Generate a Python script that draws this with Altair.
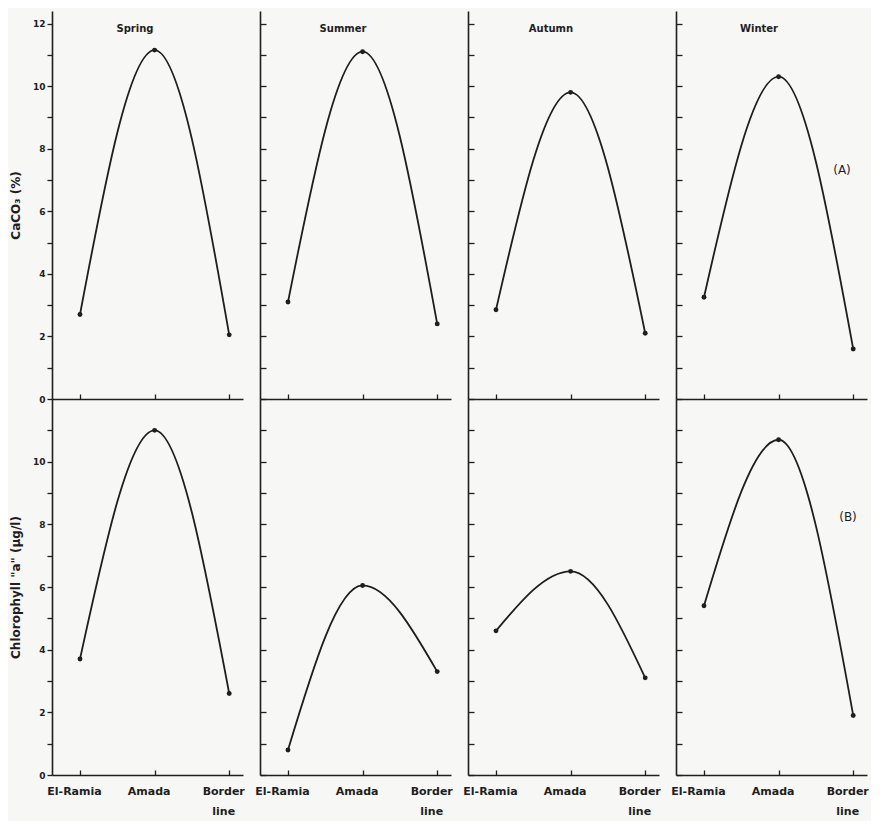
import altair as alt
import pandas as pd

stations = ["El-Ramia", "Amada", "Border line"]
seasons = ["Spring", "Summer", "Autumn", "Winter"]

caco3_spring = [2.7, 11.15, 2.05]
caco3_summer = [3.1, 11.1, 2.4]
caco3_autumn = [2.85, 9.8, 2.1]
caco3_winter = [3.25, 10.3, 1.6]

chl_spring = [3.7, 11.0, 2.6]
chl_summer = [0.8, 6.05, 3.3]
chl_autumn = [4.6, 6.5, 3.1]
chl_winter = [5.4, 10.7, 1.9]

caco3_ticks = list(range(0, 13))
chl_ticks = list(range(0, 12))

panel_tags = ["(A)", "(B)"]

W = 191
H_TOP = 388
H_BOT = 376
FONT = "DejaVu Sans"
INK = "#1e1e1e"


def frame(values):
    return pd.DataFrame({"station": stations,
                         "idx": list(range(len(stations))),
                         "value": values})


def panel(values, season, row, first, last):
    df = frame(values)
    if row == 0:
        ydomain, ticks, H = [0, 12.4], caco3_ticks, H_TOP
        ytitle = "CaCO₃ (%)"
    else:
        ydomain, ticks, H = [0, 12], chl_ticks, H_BOT
        ytitle = 'Chlorophyll "a" (μg/l)'
    if first:
        yaxis = alt.Axis(orient="left", values=ticks,
                         labelExpr="datum.value % 2 == 0 ? datum.label : ''",
                         tickSize=5, labelPadding=2, title=ytitle,
                         titlePadding=10, grid=False)
    else:
        yaxis = alt.Axis(orient="right", offset=-W, values=ticks, labels=False,
                         tickSize=6, title=None, grid=False)
    xscale = alt.Scale(type="point", padding=0.28, align=0.67)
    tick_axis = alt.Axis(orient="top", offset=-H, labels=False, tickSize=5,
                         title=None, grid=False)
    yenc = alt.Y("value:Q", scale=alt.Scale(domain=ydomain, nice=False, zero=True),
                 axis=yaxis)
    base = alt.Chart(df)
    line = base.mark_line(interpolate="monotone", color=INK, strokeWidth=1.8).encode(
        x=alt.X("station:O", sort=stations, scale=xscale, axis=tick_axis),
        y=yenc, order="idx:Q")
    if row == 1:
        lab_axis = alt.Axis(orient="bottom", ticks=False, domain=False, labelAngle=0,
                            labelExpr="split(datum.label, ' ')", labelPadding=10,
                            labelLineHeight=20, labelFontSize=11, labelOffset=-6,
                            labelFontWeight="bold", title=None, grid=False)
    else:
        lab_axis = tick_axis
    pts = base.mark_circle(size=24, color=INK, opacity=1).encode(
        x=alt.X("station:O", sort=stations, scale=xscale, axis=lab_axis),
        y=yenc)
    layers = [line, pts]
    if row == 0:
        layers.append(alt.Chart(pd.DataFrame({"t": [season]})).mark_text(
            font=FONT, fontSize=10, fontWeight="bold", color=INK
        ).encode(x=alt.value(83), y=alt.value(18), text="t:N"))
    if last:
        if row == 0:
            pos = (166, 159)
        else:
            pos = (172, 118)
        layers.append(alt.Chart(pd.DataFrame({"t": [panel_tags[row]]})).mark_text(
            font=FONT, fontSize=12, color=INK
        ).encode(x=alt.value(pos[0]), y=alt.value(pos[1]), text="t:N"))
    ch = alt.layer(*layers).properties(width=W, height=H)
    if row == 1:
        ch = ch.resolve_axis(x="independent")
    return ch


top_vals = [caco3_spring, caco3_summer, caco3_autumn, caco3_winter]
bot_vals = [chl_spring, chl_summer, chl_autumn, chl_winter]

panels = [panel(v, s, 0, i == 0, i == 3) for i, (v, s) in enumerate(zip(top_vals, seasons))]
panels += [panel(v, s, 1, i == 0, i == 3) for i, (v, s) in enumerate(zip(bot_vals, seasons))]

chart = alt.concat(*panels, columns=4, spacing={"row": 0, "column": 17},
                   bounds="flush").properties(
    background="#f7f7f5",
    padding={"left": 1, "top": 3, "right": 2, "bottom": 5},
).configure_view(stroke=None).configure_axis(
    domainColor=INK, tickColor=INK, domainWidth=1.6, tickWidth=1.3,
    labelFont=FONT, labelFontSize=9, labelFontWeight="bold", labelColor=INK,
    titleFont=FONT, titleFontSize=12, titleFontWeight="bold", titleColor=INK,
)

chart.save("out.html", embed_options={"renderer": "svg", "actions": False})
